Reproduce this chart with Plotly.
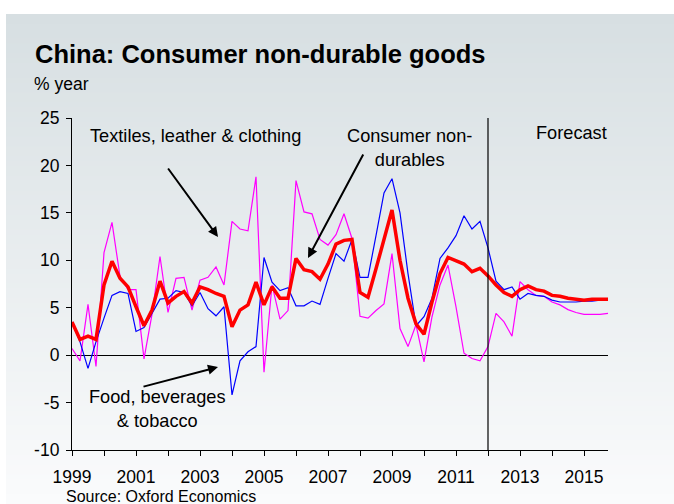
import plotly.graph_objects as go

# ---------------- data (quarterly, 1999Q1 .. 2015Q4) ----------------
start_year = 1999
forecast_start = 2012

consumer_nondurables = [
    3.5, 1.65, 2.0, 1.65, 7.4, 9.9, 8.1, 7.2, 5.1, 3.1, 4.75, 7.8,
    5.5, 6.2, 6.7, 5.5, 7.2, 6.9, 6.5, 6.2, 3.0, 4.75, 5.3, 7.7,
    5.3, 7.2, 6.0, 6.0, 10.2, 9.0, 8.8, 8.0, 9.6, 11.7, 12.1, 12.2,
    6.6, 6.1, 9.1, 12.1, 15.3, 10.0, 6.0, 3.3, 2.2, 5.6, 8.6, 10.3,
    9.9, 9.6, 8.8, 9.15, 8.35, 7.4, 6.6, 6.2, 6.9, 7.3, 6.9, 6.75,
    6.3, 6.2, 6.0, 5.9, 5.8, 5.9, 5.9, 5.9,
]
food_bev_tobacco = [
    3.5, 1.4, -1.4, 1.4, 3.9, 6.3, 6.7, 6.5, 2.5, 2.9, 4.4, 5.9,
    6.0, 6.8, 6.6, 5.2, 6.6, 4.9, 4.15, 5.1, -4.2, -0.6, 0.35, 0.9,
    10.3, 7.7, 6.8, 7.1, 5.2, 5.2, 5.7, 5.35, 8.1, 10.7, 9.9, 12.2,
    8.2, 8.2, 12.6, 17.1, 18.6, 15.0, 8.6, 3.1, 4.05, 6.0, 10.2, 11.3,
    12.6, 14.7, 13.3, 14.1, 11.3, 7.8, 6.9, 7.2, 5.9, 6.5, 6.3, 6.2,
    5.8, 5.6, 5.6, 5.6, 5.7, 5.7, 5.8, 5.8,
]
textiles_leather_clothing = [
    0.7, -0.6, 5.35, -1.2, 10.8, 14.0, 8.3, 6.9, 6.9, -0.4, 4.3, 10.4,
    4.5, 8.1, 8.2, 4.75, 7.9, 8.2, 9.3, 7.4, 14.1, 13.3, 13.1, 18.8,
    -1.8, 7.4, 3.8, 4.7, 18.4, 15.1, 14.9, 12.2, 11.6, 12.7, 14.9, 12.3,
    4.1, 3.9, 4.7, 5.4, 10.7, 2.8, 0.9, 3.2, -0.7, 4.05, 7.4, 9.5,
    5.1, 0.2, -0.35, -0.6, 0.9, 4.4, 3.5, 2.0, 7.75, 6.9, 6.3, 6.2,
    5.6, 5.3, 4.8, 4.5, 4.3, 4.3, 4.3, 4.4,
]
x_tick_years = list(range(1999, 2016))
x_tick_labels = [str(y) if (y - 1999) % 2 == 0 else "" for y in x_tick_years]
y_tick_values = [25, 20, 15, 10, 5, 0, -5, -10]
y_tick_labels = ["25", "20", "15", "10", "5", "0", "-5", "-10"]

quarters = [start_year + i / 4 for i in range(len(consumer_nondurables))]

FONT = "Liberation Sans, Arial, sans-serif"
ANN = 18.2
TICK = 17.5

fig = go.Figure()
fig.add_trace(go.Scatter(x=quarters, y=textiles_leather_clothing, mode="lines",
                         line=dict(color="#ff00ff", width=1.2), name="Textiles"))
fig.add_trace(go.Scatter(x=quarters, y=food_bev_tobacco, mode="lines",
                         line=dict(color="#0000ff", width=1.2), name="Food"))
fig.add_trace(go.Scatter(x=quarters, y=consumer_nondurables, mode="lines",
                         line=dict(color="#ff0000", width=3.5), name="Consumer"))

# ---------------- background gradient panel ----------------
W, H = 674, 504
ml, mr, mt, mb = 72, 66, 118, 54
pw, ph = W - ml - mr, H - mt - mb

def px2paper_x(px):
    return (px - ml) / pw

def py2paper_y(py):
    return (H - mb - py) / ph

shapes = []
top_c = (215, 223, 226)
bot_c = (250, 251, 252)
panel_top, panel_bot = 14, H
n = 100
for i in range(n):
    t = i / (n - 1)
    c = tuple(round(top_c[k] + (bot_c[k] - top_c[k]) * t) for k in range(3))
    y0 = panel_top + (panel_bot - panel_top) * i / n
    y1 = panel_top + (panel_bot - panel_top) * (i + 1) / n + 1
    shapes.append(dict(type="rect", xref="paper", yref="paper",
                       x0=px2paper_x(6), x1=px2paper_x(W + 2),
                       y0=py2paper_y(min(y1, H)), y1=py2paper_y(y0),
                       fillcolor="rgb(%d,%d,%d)" % c, line=dict(width=0),
                       layer="below"))
# forecast divider
shapes.append(dict(type="line", xref="x", yref="y", x0=forecast_start, x1=forecast_start,
                   y0=-10, y1=25, line=dict(color="black", width=1.2)))

annotations = [
    dict(text="<b>China: Consumer non-durable goods</b>", xref="paper", yref="paper",
         x=px2paper_x(33), y=py2paper_y(54), xanchor="left", yanchor="middle",
         showarrow=False, font=dict(family=FONT, size=25.5, color="black")),
    dict(text="% year", xref="paper", yref="paper",
         x=px2paper_x(32), y=py2paper_y(84), xanchor="left", yanchor="middle",
         showarrow=False, font=dict(family=FONT, size=17.5, color="black")),
    dict(text="Source: Oxford Economics", xref="paper", yref="paper",
         x=px2paper_x(64), y=py2paper_y(496), xanchor="left", yanchor="middle",
         showarrow=False, font=dict(family=FONT, size=16, color="black")),
    dict(text="Textiles, leather & clothing", xref="paper", yref="paper",
         x=px2paper_x(195), y=py2paper_y(136), xanchor="center", yanchor="middle",
         showarrow=False, font=dict(family=FONT, size=ANN, color="black")),
    dict(text="Consumer non-<br>durables", xref="paper", yref="paper",
         x=px2paper_x(409), y=py2paper_y(148), xanchor="center", yanchor="middle",
         showarrow=False, font=dict(family=FONT, size=ANN, color="black")),
    dict(text="Food, beverages<br>& tobacco", xref="paper", yref="paper",
         x=px2paper_x(157), y=py2paper_y(409), xanchor="center", yanchor="middle",
         showarrow=False, font=dict(family=FONT, size=ANN, color="black")),
    dict(text="Forecast", xref="paper", yref="paper",
         x=px2paper_x(609), y=py2paper_y(133), xanchor="right", yanchor="middle",
         showarrow=False, font=dict(family=FONT, size=ANN, color="black")),
]
# arrows (head position in paper coords, tail as pixel offset)
for head, tail in [((218, 237), (167, 167)), ((308, 258), (364, 153)), ((218, 367), (142, 387))]:
    annotations.append(dict(text="", xref="paper", yref="paper",
                            x=px2paper_x(head[0]), y=py2paper_y(head[1]),
                            ax=tail[0] - head[0], ay=tail[1] - head[1],
                            showarrow=True, arrowhead=2, arrowsize=1.0, arrowwidth=2,
                            arrowcolor="black", standoff=0))

fig.update_layout(
    width=W, height=H,
    margin=dict(l=ml, r=mr, t=mt, b=mb, pad=0),
    paper_bgcolor="white", plot_bgcolor="rgba(0,0,0,0)",
    showlegend=False, shapes=shapes, annotations=annotations,
    font=dict(family=FONT, size=TICK, color="black"),
    hovermode=False,
)
fig.update_xaxes(range=[1999, 2015.75], tickvals=x_tick_years, ticktext=x_tick_labels,
                 showgrid=False, zeroline=False, showline=True, linecolor="black",
                 linewidth=1.2, ticks="outside", ticklen=5, tickcolor="black",
                 ticklabelstandoff=6,
                 tickfont=dict(family=FONT, size=TICK, color="black"))
fig.update_yaxes(range=[-10, 25], tickvals=y_tick_values, ticktext=y_tick_labels,
                 showgrid=False,
                 zeroline=True, zerolinecolor="black", zerolinewidth=1.2,
                 showline=True, linecolor="black", linewidth=1.2,
                 ticks="outside", ticklen=5, tickcolor="black",
                 ticklabelstandoff=3,
                 tickfont=dict(family=FONT, size=TICK, color="black"))

fig.write_html("out.html", config={"displayModeBar": False},
               post_script="document.body.style.margin='0px';document.body.style.overflow='hidden';")
